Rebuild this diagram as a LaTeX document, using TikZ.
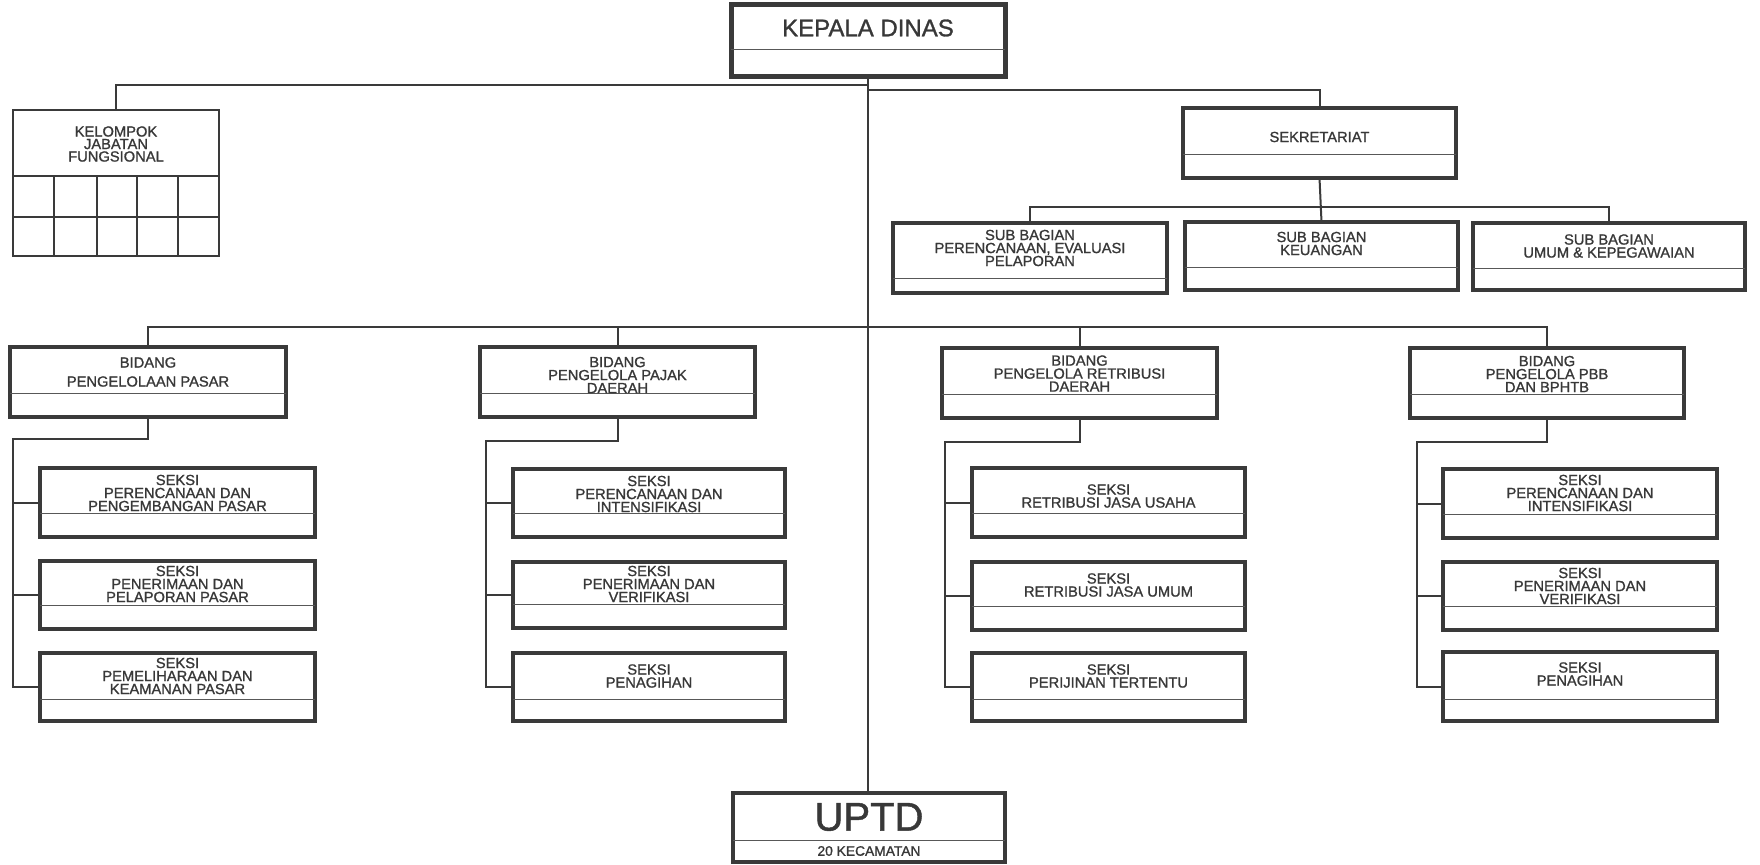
\documentclass[tikz,border=0pt]{standalone}
\usepackage{fontspec}
\setmainfont{Liberation Sans}[FakeBold=1.2]
\usetikzlibrary{calc}
\definecolor{ink}{HTML}{3A3A3A}
\definecolor{txtc}{HTML}{383838}
\tikzset{
  box/.style={draw=ink, line width=4pt, rectangle, inner sep=0pt, outer sep=0pt},
  thinbox/.style={draw=ink, line width=1.8pt, rectangle, inner sep=0pt, outer sep=0pt},
  sepline/.style={draw=ink!85, line width=1pt},
  gridline/.style={draw=ink, line width=1.8pt},
  conn/.style={draw=ink, line width=2pt},
  txt/.style={text=txtc, align=center, inner sep=0pt, font=\fontsize{14.7}{13}\selectfont},
}
% #1 text style, #2 name, #3 x1, #4 y1, #5 x2, #6 y2, #7 separator y, #8 text y, #9 text
\newcommand\orgbox[9][]{%
  \node[box,minimum width={#5-#3},minimum height={#6-#4},anchor=north west] (#2) at (#3,#4) {};
  \draw[sepline] (#3,#7) -- (#5,#7);
  \node[txt,#1] (#2-t) at ({(#3+#5)/2},#8) {#9};
}
\begin{document}
\begin{tikzpicture}[x=1pt,y=-1pt]
\useasboundingbox (0,0) rectangle (1760,864);

% top
\node[box,line width=5pt,minimum width=274,minimum height=72,anchor=north west] (kd) at (731,5) {};
\draw[sepline] (731,50) -- (1005,50);
\node[txt,font=\fontsize{24}{26}\selectfont] (kd-t) at (868,28) {KEPALA DINAS};

% kelompok jabatan fungsional
\node[thinbox,minimum width=206,minimum height=146,anchor=north west] (kjf) at (13,110) {};
\node[txt,font=\fontsize{14.7}{12.5}\selectfont] (kjf-t) at (116,144) {KELOMPOK\\JABATAN\\FUNGSIONAL};
\draw[gridline] (13,176) -- (219,176);
\draw[gridline] (13,217) -- (219,217);
\foreach \gx in {54,97,137,178} { \draw[gridline] (\gx,176) -- (\gx,256); }

% sekretariat
\orgbox{sek}{1183}{108}{1456}{178}{154}{137}{SEKRETARIAT}
\orgbox{sb1}{893}{223}{1167}{293}{278}{248}{SUB BAGIAN\\PERENCANAAN, EVALUASI\\PELAPORAN}
\orgbox{sb2}{1185}{222}{1458}{290}{267}{243.5}{SUB BAGIAN\\KEUANGAN}
\orgbox{sb3}{1473}{223}{1745}{290}{268}{246}{SUB BAGIAN\\UMUM \& KEPEGAWAIAN}

% bidang
\orgbox[font=\fontsize{14.7}{19}\selectfont]{b1}{10}{347}{286}{417}{393}{372}{BIDANG\\PENGELOLAAN PASAR}
\orgbox{b2}{480}{347}{755}{417}{393}{375}{BIDANG\\PENGELOLA PAJAK\\DAERAH}
\orgbox{b3}{942}{348}{1217}{418}{394}{373.5}{BIDANG\\PENGELOLA RETRIBUSI\\DAERAH}
\orgbox{b4}{1410}{348}{1684}{418}{394}{374}{BIDANG\\PENGELOLA PBB\\DAN BPHTB}

% seksi
\orgbox{s11}{40}{468}{315}{537}{513}{493}{SEKSI\\PERENCANAAN DAN\\PENGEMBANGAN PASAR}
\orgbox{s12}{40}{561}{315}{629}{605}{584}{SEKSI\\PENERIMAAN DAN\\PELAPORAN PASAR}
\orgbox{s13}{40}{653}{315}{721}{699}{676}{SEKSI\\PEMELIHARAAN DAN\\KEAMANAN PASAR}

\orgbox{s21}{513}{469}{785}{537}{513}{494}{SEKSI\\PERENCANAAN DAN\\INTENSIFIKASI}
\orgbox{s22}{513}{562}{785}{628}{604}{584}{SEKSI\\PENERIMAAN DAN\\VERIFIKASI}
\orgbox{s23}{513}{653}{785}{721}{699}{676}{SEKSI\\PENAGIHAN}

\orgbox{s31}{972}{468}{1245}{537}{513}{496}{SEKSI\\RETRIBUSI JASA USAHA}
\orgbox{s32}{972}{562}{1245}{630}{606}{585}{SEKSI\\RETRIBUSI JASA UMUM}
\orgbox{s33}{972}{653}{1245}{721}{699}{676}{SEKSI\\PERIJINAN TERTENTU}

\orgbox{s41}{1443}{469}{1717}{538}{514}{493}{SEKSI\\PERENCANAAN DAN\\INTENSIFIKASI}
\orgbox{s42}{1443}{562}{1717}{630}{606}{586}{SEKSI\\PENERIMAAN DAN\\VERIFIKASI}
\orgbox{s43}{1443}{652}{1717}{721}{699}{674}{SEKSI\\PENAGIHAN}

% uptd
\orgbox[font=\fontsize{40}{42}\selectfont]{uptd}{733}{793}{1005}{862}{840}{817}{UPTD}
\node[txt,font=\fontsize{13.8}{15}\selectfont] (uptd-s) at (869,851) {20 KECAMATAN};

% connectors
\draw[conn] (kd.south) -- (kd.south |- uptd.north);
\draw[conn] (kjf.north) |- (kd.south |- 0,85);
\draw[conn] (kd.south |- 0,90) -| (sek.north);
\draw[conn] (sek.south) -- (sb2.north);
\draw[conn] (sb1.north) |- (sb3.north |- 0,207) -- (sb3.north);

\draw[conn] (b1.north) |- (b4.north |- 0,327) -- (b4.north);
\draw[conn] (b2.north) -- (b2.north |- 0,327);
\draw[conn] (b3.north) -- (b3.north |- 0,327);

\coordinate (r1) at (13,439);
\coordinate (r2) at (486,441);
\coordinate (r3) at (945,442);
\coordinate (r4) at (1417,442);

\draw[conn] (b1.south) |- (r1) |- (s13.west);
\draw[conn] (r1 |- s11.west) -- (s11.west);
\draw[conn] (r1 |- s12.west) -- (s12.west);

\draw[conn] (b2.south) |- (r2) |- (s23.west);
\draw[conn] (r2 |- s21.west) -- (s21.west);
\draw[conn] (r2 |- s22.west) -- (s22.west);

\draw[conn] (b3.south) |- (r3) |- (s33.west);
\draw[conn] (r3 |- s31.west) -- (s31.west);
\draw[conn] (r3 |- s32.west) -- (s32.west);

\draw[conn] (b4.south) |- (r4) |- (s43.west);
\draw[conn] (r4 |- s41.west) -- (s41.west);
\draw[conn] (r4 |- s42.west) -- (s42.west);
\end{tikzpicture}
\end{document}
